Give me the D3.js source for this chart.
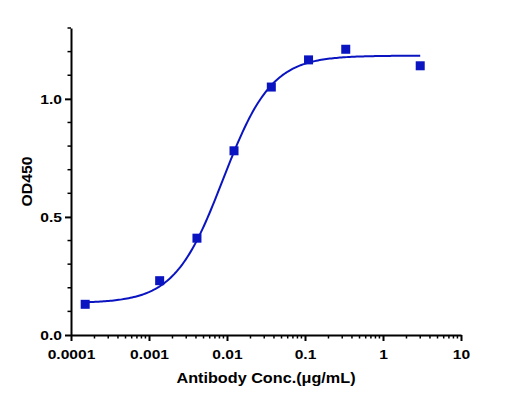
<!DOCTYPE html>
<html>
<head>
<meta charset="utf-8">
<script src="https://cdn.jsdelivr.net/npm/d3@7/dist/d3.min.js"></script>
<style>
  html, body { margin: 0; padding: 0; background: #fff; }
  svg { display: block; font-family: Arial, "Liberation Sans", sans-serif; }
  .tick text { font-size: 13px; font-weight: bold; fill: #000; }
</style>
</head>
<body>
<svg id="chart" width="515" height="402"></svg>
<script>
// measured points (concentration in ug/mL, OD450)
const conc = [0.000152, 0.00137, 0.00412, 0.0123, 0.037, 0.111, 0.333, 3];
const od = [0.13, 0.23, 0.41, 0.78, 1.05, 1.165, 1.21, 1.14];

// 4PL fit parameters
const fitBottom = 0.135, fitTop = 1.183, fitEC50 = 0.0089, fitHill = 1.4;

const xTicks = [0.0001, 0.001, 0.01, 0.1, 1, 10];
const xTickLabels = ['0.0001', '0.001', '0.01', '0.1', '1', '10'];
const yTicks = [0, 0.5, 1.0];
const yTickLabels = ['0.0', '0.5', '1.0'];

const margin = { left: 71, right: 54, top: 28, bottom: 67 };
const W = 515, H = 402;
const blue = '#0a14c0';
const stretch = 1.2; // labels in the original are drawn a bit wide

const svg = d3.select('#chart');

const x = d3.scaleLog().domain([0.0001, 10]).range([margin.left, W - margin.right]);
const y = d3.scaleLinear().domain([0, 1.3]).range([H - margin.bottom, margin.top]);

// x axis with log minor ticks
const minorX = [];
for (let d = -4; d < 1; d++) {
  for (let k = 2; k <= 9; k++) minorX.push(k * Math.pow(10, d));
}

const xAxisG = svg.append('g')
  .attr('transform', `translate(0,${y(0)})`);
xAxisG.selectAll('line.minor')
  .data(minorX)
  .join('line')
  .attr('class', 'minor')
  .attr('x1', d => x(d)).attr('x2', d => x(d))
  .attr('y1', 0).attr('y2', 3.5)
  .attr('stroke', '#000').attr('stroke-width', 1.5);
xAxisG.call(d3.axisBottom(x)
    .tickValues(xTicks)
    .tickFormat((d, i) => xTickLabels[i])
    .tickSize(6)
    .tickPadding(9)
    .tickSizeOuter(0))
  .call(g => g.select('.domain').attr('stroke-width', 2))
  .call(g => g.selectAll('.tick line').attr('stroke-width', 2))
  .call(g => g.selectAll('.tick text').attr('transform', `scale(${stretch},1)`));

// y axis with minor ticks every 0.1
const minorY = d3.range(1, 14).map(i => i / 10).filter(v => Math.abs(v * 2 - Math.round(v * 2)) > 1e-6);

const yAxisG = svg.append('g')
  .attr('transform', `translate(${x(0.0001)},0)`);
yAxisG.selectAll('line.minor')
  .data(minorY)
  .join('line')
  .attr('class', 'minor')
  .attr('y1', d => y(d)).attr('y2', d => y(d))
  .attr('x1', 0).attr('x2', -3.5)
  .attr('stroke', '#000').attr('stroke-width', 1.5);
yAxisG.call(d3.axisLeft(y)
    .tickValues(yTicks)
    .tickFormat((d, i) => yTickLabels[i])
    .tickSize(6)
    .tickPadding(3)
    .tickSizeOuter(0))
  .call(g => g.select('.domain').attr('stroke-width', 2))
  .call(g => g.selectAll('.tick line').attr('stroke-width', 2))
  .call(g => g.selectAll('.tick text')
    .attr('x', -9 / stretch)
    .attr('transform', `scale(${stretch},1)`));

// axis titles
const xMid = (x.range()[0] + x.range()[1]) / 2;
svg.append('text')
  .attr('transform', `translate(${xMid},383) scale(1.08,1)`)
  .attr('text-anchor', 'middle')
  .attr('font-size', 15).attr('font-weight', 'bold')
  .text('Antibody Conc.(μg/mL)');

svg.append('text')
  .attr('transform', `translate(32,${(y.range()[0] + y.range()[1]) / 2}) rotate(-90) scale(1.05,1)`)
  .attr('text-anchor', 'middle')
  .attr('font-size', 15).attr('font-weight', 'bold')
  .text('OD450');

// fitted curve
const fit = c => fitBottom + (fitTop - fitBottom) / (1 + Math.pow(fitEC50 / c, fitHill));
const lx0 = Math.log10(d3.min(conc)), lx1 = Math.log10(d3.max(conc));
const curve = d3.range(0, 201).map(i => Math.pow(10, lx0 + (lx1 - lx0) * i / 200));

svg.append('path')
  .datum(curve)
  .attr('fill', 'none')
  .attr('stroke', blue)
  .attr('stroke-width', 2)
  .attr('d', d3.line().x(d => x(d)).y(d => y(fit(d))));

// points
const s = 9;
svg.append('g')
  .selectAll('rect')
  .data(conc)
  .join('rect')
  .attr('x', d => x(d) - s / 2)
  .attr('y', (d, i) => y(od[i]) - s / 2)
  .attr('width', s).attr('height', s)
  .attr('fill', blue);
</script>
</body>
</html>
